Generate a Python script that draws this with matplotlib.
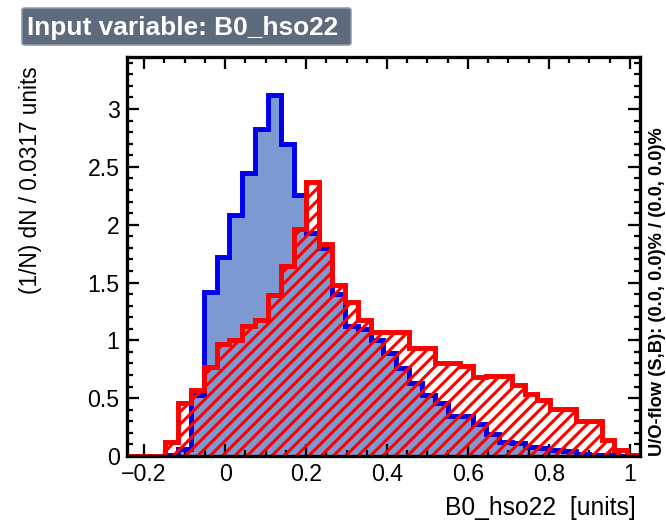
import matplotlib
matplotlib.use("Agg")
import matplotlib.pyplot as plt
from matplotlib.ticker import MultipleLocator, FuncFormatter
from matplotlib.patches import FancyBboxPatch
import numpy as np

# ---- data ----
x_min = -0.243
bin_width = 0.0317
signal = [0.0, 0.0, 0.0, 0.01, 0.06, 0.53, 1.42, 1.72, 2.08, 2.45,
          2.83, 3.12, 2.70, 2.26, 1.93, 1.80, 1.40, 1.12, 1.10, 1.00,
          0.89, 0.76, 0.63, 0.53, 0.46, 0.35, 0.35, 0.28, 0.19, 0.12,
          0.11, 0.08, 0.07, 0.05, 0.04, 0.02, 0.01, 0.01, 0.0, 0.0]
background = [0.0, 0.0, 0.0, 0.12, 0.46, 0.57, 0.77, 0.97, 1.00, 1.12,
              1.18, 1.39, 1.64, 1.96, 2.37, 1.83, 1.48, 1.33, 1.18, 1.07,
              1.07, 1.07, 0.93, 0.93, 0.80, 0.80, 0.78, 0.68, 0.69, 0.69,
              0.61, 0.54, 0.48, 0.41, 0.41, 0.30, 0.30, 0.14, 0.05, 0.01]
x_ticks = [-0.2, 0, 0.2, 0.4, 0.6, 0.8, 1]
y_ticks = [0, 0.5, 1, 1.5, 2, 2.5, 3]
title = "Input variable: B0_hso22"
xlabel = "B0_hso22  [units]"
ylabel = "(1/N) dN / 0.0317 units"
overflow_text = "U/O-flow (S,B): (0.0, 0.0)% / (0.0, 0.0)%"

edges = x_min + bin_width * np.arange(len(signal) + 1)

DPI = 74
W, H = 666, 526
plt.rcParams['font.family'] = ['Liberation Sans', 'DejaVu Sans']
plt.rcParams['hatch.linewidth'] = 3.0

fig = plt.figure(figsize=(W / DPI, H / DPI), dpi=DPI)
L, R, T, B = 126.7, 640, 57, 456
ax = fig.add_axes([L / W, 1 - B / H, (R - L) / W, (B - T) / H])

sig_fill = '#7d99d1'
sig_line = '#0000ee'
bkg_line = '#ff0000'

ax.stairs(signal, edges, fill=True, facecolor=sig_fill, edgecolor='none', linewidth=0, zorder=1)
ax.stairs(signal, edges, fill=False, color=sig_line, linewidth=4.8, baseline=0, zorder=2)
ax.stairs(background, edges, fill=True, facecolor='none', edgecolor=bkg_line, linewidth=0,
          hatch='//', zorder=3)
ax.stairs(background, edges, fill=False, color=bkg_line, linewidth=4.8, baseline=0, zorder=4)

ax.set_xlim(edges[0], edges[-1])
ax.set_ylim(0, 3.45)

ax.set_xticks(x_ticks)
ax.set_yticks(y_ticks)
ax.xaxis.set_minor_locator(MultipleLocator(0.05))
ax.yaxis.set_minor_locator(MultipleLocator(0.1))
fmt = FuncFormatter(lambda v, p: ('%g' % v).replace('-', '\u2212'))
ax.xaxis.set_major_formatter(fmt)
ax.yaxis.set_major_formatter(fmt)

ax.tick_params(which='both', direction='in', top=True, right=True, width=2.2, color='black')
ax.tick_params(which='major', length=12, labelsize=22.5, pad=7)
ax.tick_params(which='minor', length=6)
for s in ax.spines.values():
    s.set_linewidth(3.2)
    s.set_zorder(10)

fig.text(636 / W, 1 - 508 / H, xlabel, ha='right', va='center', fontsize=24)
fig.text(31 / W, 1 - 180 / H, ylabel, ha='center', va='center', rotation=90, fontsize=22)
fig.text(658 / W, 1 - 456 / H, overflow_text, ha='center', va='bottom', rotation=90,
         fontsize=17.8, fontweight='bold')

# title box
bx0, by0, bx1, by1 = 22, 8, 351, 45
box = FancyBboxPatch((bx0 / W, 1 - by1 / H), (bx1 - bx0) / W, (by1 - by0) / H,
                     boxstyle="round,pad=0,rounding_size=0.004", transform=fig.transFigure,
                     facecolor='#5d6b7d', edgecolor='#8d9bad', linewidth=1.5)
fig.patches.append(box)
fig.text((bx0 + 5) / W, 1 - ((by0 + by1) / 2 + 1) / H, title, ha='left', va='center',
         color='white', fontsize=25.5, fontweight='bold')

fig.savefig('out.png', dpi=DPI)
